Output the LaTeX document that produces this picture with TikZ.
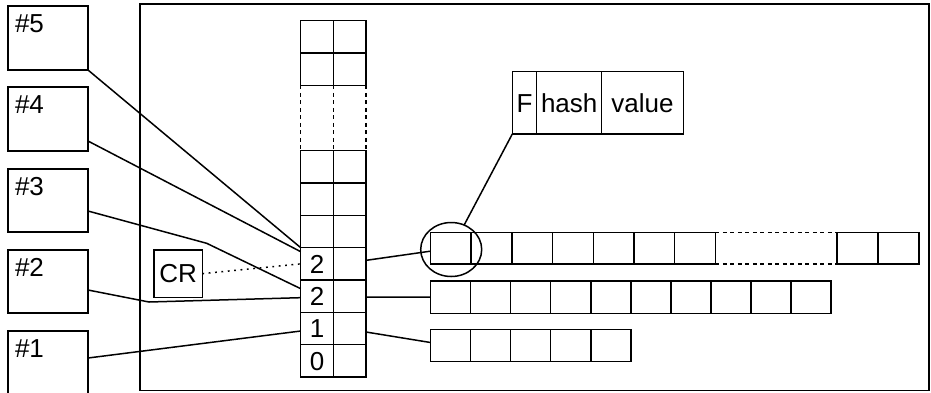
\documentclass[tikz,border=0pt]{standalone}
\usepackage{fontspec}
\setmainfont{Liberation Sans}
\usetikzlibrary{shapes.geometric}
\begin{document}
\begin{tikzpicture}[x=1pt, y=-1pt,
  line width=1.5pt,
  every node/.style={inner sep=0pt, outer sep=0pt},
  txt/.style={font=\fontsize{26}{31}\selectfont},
  glyphs/.style={txt, text height=18.5pt, text depth=0pt},
  rect/.style 2 args={draw, anchor=north west, minimum width=#1, minimum height=#2},
  colL/.style={rect={32.6pt}{32.33pt}, glyphs},
  colR/.style={rect={32.7pt}{32.33pt}},
  gap/.style={dash pattern=on 4pt off 3.5pt},
  link/.style={dash pattern=on 1.8pt off 4.6pt}
]
\useasboundingbox (0,0) rectangle (931,392);

% outer frame
\draw (140,4) rectangle (929,390.7);

% slots #1..#5 on the left
\node[rect={80pt}{64pt}] (p5) at (8,6) {};
\node[rect={80pt}{64pt}] (p4) at (8,87) {};
\node[rect={80pt}{63pt}] (p3) at (8,169) {};
\node[rect={80pt}{63pt}] (p2) at (8,250) {};
\node[rect={80pt}{64pt}] (p1) at (8,331) {};
\foreach \n in {1,...,5}
  \node[txt, anchor=base west] (t\n) at ([xshift=7pt, yshift=-26.5pt]p\n.north west) {\#\n};

% bucket column
\foreach \i/\t in {0/0,1/1,2/2,3/2,4/,5/,6/} {
  \node[colL] (L\i) at (300.7, {377-(\i+1)*32.33}) {\t};
  \node[colR] (R\i) at (333.3, {377-(\i+1)*32.33}) {};
}
\node[colL] (LT1) at (300.7,20.7) {};
\node[colR] (RT1) at (333.3,20.7) {};
\node[colL] (LT2) at (300.7,53.03) {};
\node[colR] (RT2) at (333.3,53.03) {};
\draw[gap] (LT2.south west) -- (L6.north west);
\draw[gap] (LT2.south east) -- (L6.north west -| RT2.south west);
\draw[gap] (RT2.south east) -- (R6.north east);

% CR marker
\node[rect={48.3pt}{47.3pt}, glyphs] (cr) at (154,250) {CR};
\draw[link] (cr.east) -- (L3.west);

% chain rows
\foreach \k in {1,...,7}
  \node[rect={40.7pt}{31.7pt}] (a\k) at ({430.5+(\k-1)*40.7}, 232.3) {};
\node[rect={41.1pt}{31.7pt}] (a8) at (837,232.3) {};
\node[rect={41.1pt}{31.7pt}] (a9) at (878.1,232.3) {};
\draw[gap] (a7.north east) -- (a8.north west);
\draw[gap] (a7.south east) -- (a8.south west);

\foreach \k in {1,...,10}
  \node[rect={40.07pt}{32.3pt}] (b\k) at ({430.5+(\k-1)*40.07}, 281) {};
\foreach \k in {1,...,5}
  \node[rect={40.07pt}{32.4pt}] (c\k) at ({430.5+(\k-1)*40.07}, 329.3) {};

% entry layout
\node[rect={24.4pt}{62.3pt}, glyphs] (fF) at (512.3,71.7) {F};
\node[rect={65pt}{62.3pt}, glyphs] (fH) at (536.7,71.7) {hash};
\node[rect={81.6pt}{62.3pt}, glyphs] (fV) at (601.7,71.7) {value};
\node[draw, ellipse, minimum width=61pt, minimum height=54pt] (ring) at (451.2,249.5) {};
\draw (fF.south west) -- (ring);

% slots to buckets
\coordinate (k3) at (206.7,243.3);
\coordinate (k2) at (149,302);
\draw (p5.south east) -- (L3.north west);
\draw ([yshift=10pt]p4.south east) -- ([yshift=-4pt]L3.north west);
\draw ([yshift=21pt]p3.south east) -- (k3) -- ([yshift=7.5pt]L2.west);
\draw ([yshift=23pt]p2.south east) -- (k2) -- ([yshift=-1.5pt]L2.west);
\draw ([yshift=-27pt]p1.north east) -- ([yshift=-2.5pt]L1.west);

% buckets to chains
\draw ([yshift=3.5pt]R3.east) -- ([yshift=-3pt]a1.west);
\draw ([yshift=-1pt]R2.east) -- (b1.west);
\draw ([yshift=-3.5pt]R1.east) -- ([yshift=3pt]c1.west);
\end{tikzpicture}
\end{document}
